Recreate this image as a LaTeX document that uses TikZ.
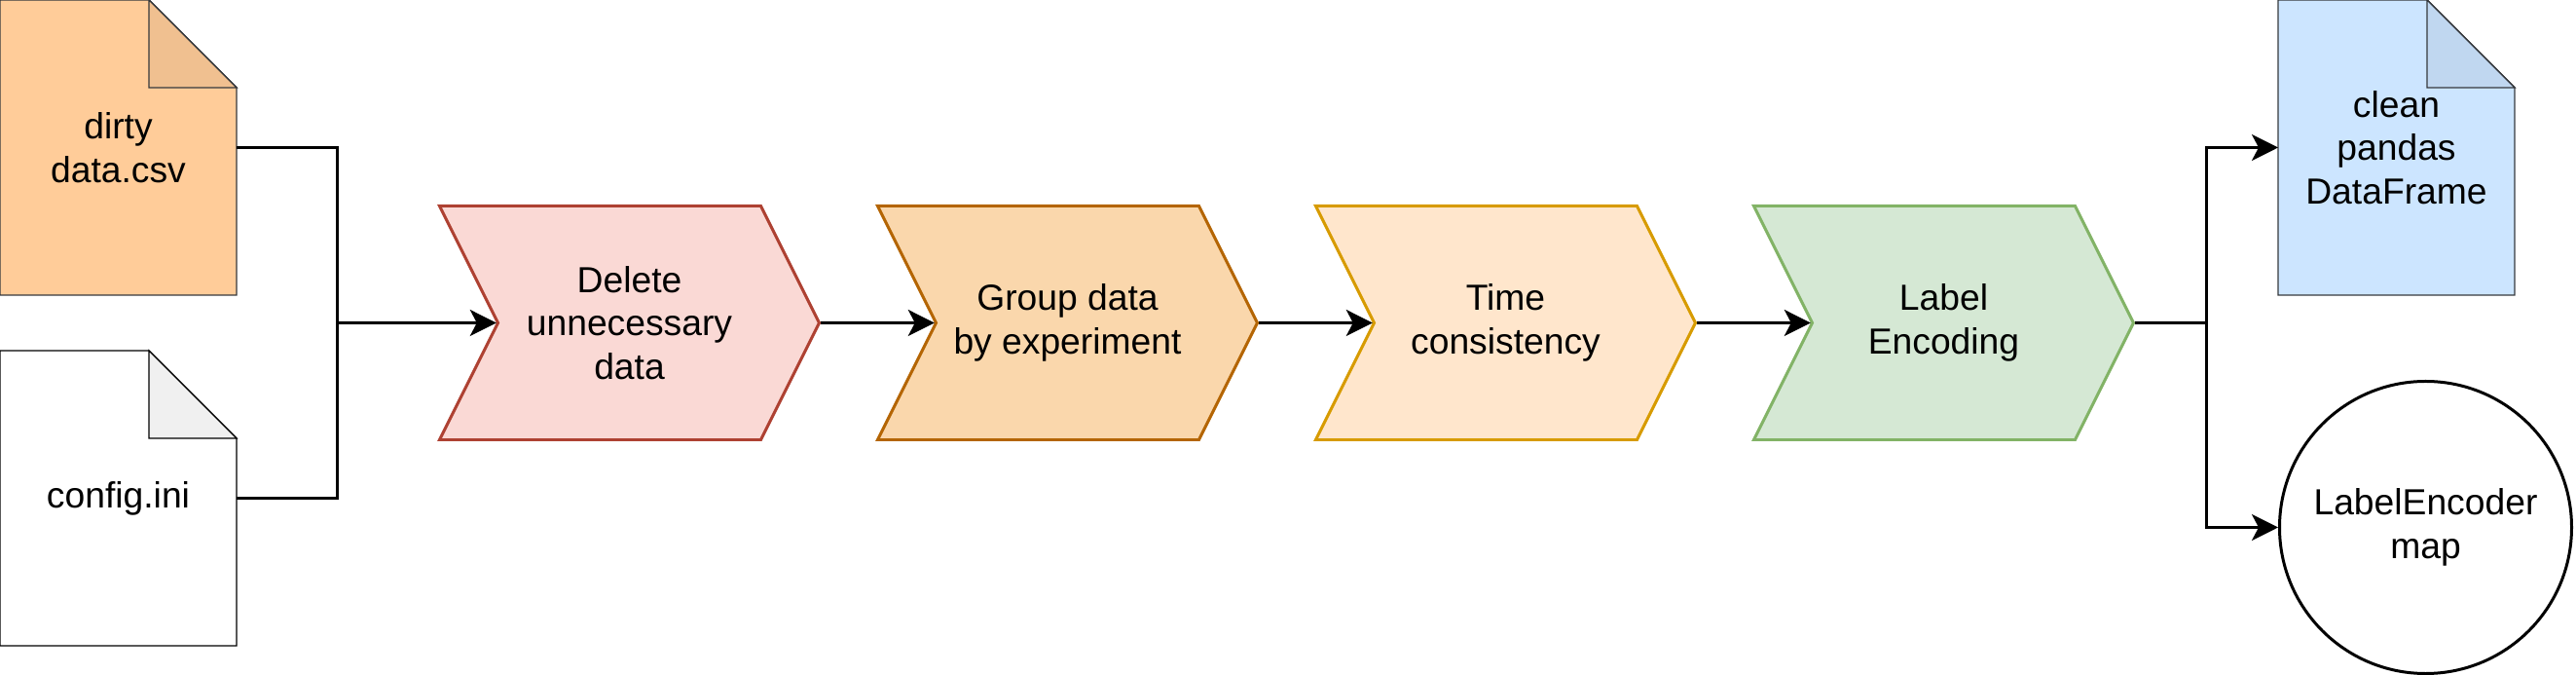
\documentclass[tikz,border=0pt]{standalone}
\usepackage{fontspec}
\setmainfont{Liberation Sans}
\usetikzlibrary{arrows.meta}
\usetikzlibrary{shapes.symbols}
\usetikzlibrary{backgrounds}

\definecolor{docgray}{HTML}{36393D}
\definecolor{dirtyfill}{HTML}{FFCC99}
\definecolor{dirtyfold}{HTML}{F0C090}
\definecolor{configfold}{HTML}{F0F0F0}
\definecolor{cleanfill}{HTML}{CCE5FF}
\definecolor{cleanfold}{HTML}{C0D7F0}
\definecolor{delfill}{HTML}{FAD9D5}
\definecolor{deldraw}{HTML}{AE4132}
\definecolor{grpfill}{HTML}{FAD7AC}
\definecolor{grpdraw}{HTML}{B46504}
\definecolor{timefill}{HTML}{FFE6CC}
\definecolor{timedraw}{HTML}{D79B00}
\definecolor{encfill}{HTML}{D5E8D4}
\definecolor{encdraw}{HTML}{82B366}

\begin{document}
\begin{tikzpicture}[
    x=0.03cm, y=-0.03cm,
    font=\fontsize{10.6}{12.7}\selectfont,
    line width=0.85pt,
    doc/.style={minimum width=2.4cm, minimum height=3cm, inner sep=0pt, align=center},
    chev/.style={shape=signal, signal from=west, signal to=east, signal pointer angle=126.87, minimum width=3.9cm, minimum height=2.4cm, inner sep=0pt, align=center},
    outcircle/.style={circle, draw=black, minimum size=3cm, inner sep=0pt, align=center},
    link/.style={draw=black},
    flow/.style={link, -{Stealth[length=0.27cm, width=0.27cm, inset=0.07cm]}}
]
\useasboundingbox (0,0) rectangle (882,231);

% Input files
\node[doc] (dirty) at (40.5,50.5) {dirty\\data.csv};
\node[doc] (config) at (40.5,170.5) {config.ini};

% Processing steps
\node[chev, fill=delfill, draw=deldraw] (del) at (215.5,110.5) {Delete\\unnecessary\\data};
\node[chev, fill=grpfill, draw=grpdraw] (grp) at (365.5,110.5) {Group data\\by experiment};
\node[chev, fill=timefill, draw=timedraw] (tcons) at (515.5,110.5) {Time\\consistency};
\node[chev, fill=encfill, draw=encdraw] (enc) at (665.5,110.5) {Label\\Encoding};

% Outputs
\node[doc] (clean) at (820.5,50.5) {clean\\pandas\\DataFrame};
\node[outcircle] (encmap) at (830.5,180.5) {LabelEncoder\\map};

% File outlines with folded corner
\begin{scope}[on background layer]
\foreach \d/\f/\k/\s in {dirty/dirtyfill/dirtyfold/docgray, config/white/configfold/black, clean/cleanfill/cleanfold/docgray} {
    \filldraw[fill=\f, draw=\s] (\d.north west) -- ([xshift=-0.9cm]\d.north east) -- ([yshift=-0.9cm]\d.north east) -- (\d.south east) -- (\d.south west) -- cycle;
    \filldraw[fill=\k, draw=\s] ([xshift=-0.9cm]\d.north east) -- ([xshift=-0.9cm, yshift=-0.9cm]\d.north east) -- ([yshift=-0.9cm]\d.north east) -- cycle;
}
\end{scope}

% Connectors
\coordinate (merge) at (115.5,110.5);
\coordinate (fork) at (755.5,110.5);
\draw[link] (dirty) -| (merge);
\draw[link] (config) -| (merge);
\draw[flow] (merge) -- (del);
\draw[flow] (del) -- (grp);
\draw[flow] (grp) -- (tcons);
\draw[flow] (tcons) -- (enc);
\draw[link] (enc) -- (fork);
\draw[flow] (fork) |- (clean);
\draw[flow] (fork) |- (encmap);

\end{tikzpicture}
\end{document}
